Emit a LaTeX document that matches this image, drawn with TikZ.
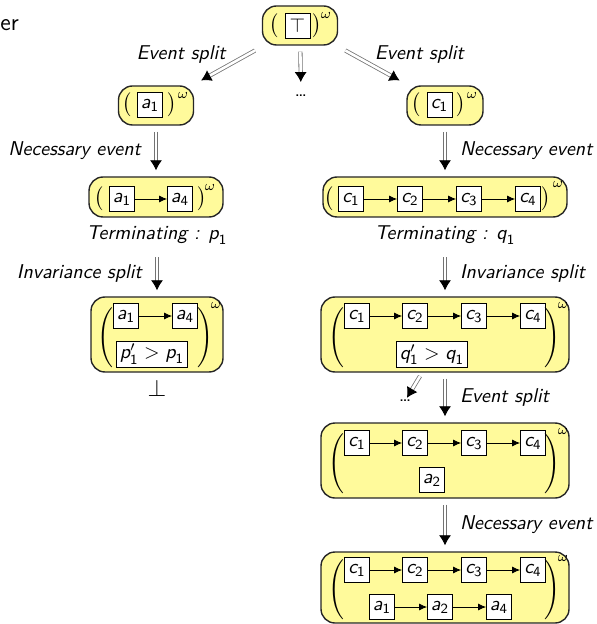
\documentclass[tikz,border=0pt]{standalone}
\usetikzlibrary{arrows.meta}
\renewcommand\familydefault{\sfdefault}
\definecolor{stateyellow}{RGB}{255,250,155}
% event with index, sans italic letter and sans index
\newcommand\ev[2]{\ensuremath{\textit{#1}_{\mathsf{#2}}}}

\tikzset{
  state/.style={draw=black!85, line width=0.7pt, fill=stateyellow, rounded corners=7pt, inner sep=0pt},
  evbox/.style={draw, fill=white, minimum width=12.5pt, minimum height=12.5pt, inner sep=1pt},
  guard/.style={draw, fill=white, minimum height=12.5pt, inner sep=1.5pt},
  paren/.style={inner sep=0pt},
  omega/.style={font=\scriptsize, inner sep=0pt},
  refine/.style={draw=black!55, double=white, double distance=1.3pt,
    -{Latex[length=5pt,width=6pt,black]}, shorten <=3pt, shorten >=3pt},
  order/.style={-{Latex[length=4pt,width=3.5pt]}},
  rule/.style={font=\itshape},
}

\begin{document}
\begin{tikzpicture}[x=0.5pt,y=-0.5pt]
  \useasboundingbox (0,0) rectangle (597,624);
  \node[font=\large, anchor=west, inner sep=0pt] at (0,25) {er};

  % initial state
  \node[state, minimum width=37.5pt, minimum height=19.5pt] (s0) at (300,25.5) {};
  \node[evbox] at (297.5,26) {$\top$};
  \node[paren] at (274,26) {$\big($};
  \node[paren] at (317,26) {$\big)$};
  \node[omega] at (326,15) {$\omega$};
  \node (more) at (301,96) {\dots};

  % left branch
  \node[state, minimum width=37.5pt, minimum height=19.5pt] (sa) at (156,105.5) {};
  \node[evbox] at (150,105) {\ev{a}{1}};
  \node[paren] at (127,105) {$\big($};
  \node[paren] at (172,105) {$\big)$};
  \node[omega] at (183,95) {$\omega$};

  \node[state, minimum width=67pt, minimum height=20pt] (sa2) at (156,197) {};
  \node[evbox] (a1) at (122,199) {\ev{a}{1}};
  \node[evbox] (a4) at (180,199) {\ev{a}{4}};
  \draw[order] (a1) -- (a4);
  \node[paren] at (99,199) {$\big($};
  \node[paren] at (202,199) {$\big)$};
  \node[omega] at (210,187) {$\omega$};
  \node[rule] (terma) at (157,235) {Terminating : \ev{p}{1}};

  \node[state, minimum width=66pt, minimum height=37.5pt] (sa3) at (157,334.5) {};
  \node[evbox] (b1) at (126,316) {\ev{a}{1}};
  \node[evbox] (b4) at (185,316) {\ev{a}{4}};
  \draw[order] (b1) -- (b4);
  \node[guard] at (152,354) {$\textit{p}'_{\mathsf{1}} > \textit{p}_{\mathsf{1}}$};
  \node[paren] at (105,338) {$\Bigg($};
  \node[paren] at (205,338) {$\Bigg)$};
  \node[omega] at (216,305) {$\omega$};
  \node[font=\large] (bot) at (157,388) {$\bot$};

  % right branch
  \node[state, minimum width=38pt, minimum height=19.5pt] (sc) at (445,105.5) {};
  \node[evbox] at (439.5,105) {\ev{c}{1}};
  \node[paren] at (416,105) {$\big($};
  \node[paren] at (461,105) {$\big)$};
  \node[omega] at (472,95) {$\omega$};

  \node[state, minimum width=122pt, minimum height=20pt] (sc2) at (445,197) {};
  \foreach \i/\x in {1/351,2/410,3/469,4/528}
    \node[evbox] (c\i) at (\x,199) {\ev{c}{\i}};
  \foreach \i/\j in {1/2,2/3,3/4}
    \draw[order] (c\i) -- (c\j);
  \node[paren] at (329,199) {$\big($};
  \node[paren] at (546,199) {$\big)$};
  \node[omega] at (558,184) {$\omega$};
  \node[rule] (termc) at (445,235) {Terminating : \ev{q}{1}};

  \node[state, minimum width=124pt, minimum height=37.5pt] (sc3) at (445,334.5) {};
  \foreach \i/\x in {1/357,2/415,3/474,4/533}
    \node[evbox] (d\i) at (\x,316) {\ev{c}{\i}};
  \foreach \i/\j in {1/2,2/3,3/4}
    \draw[order] (d\i) -- (d\j);
  \node[guard] at (432,354.5) {$\textit{q}'_{\mathsf{1}} > \textit{q}_{\mathsf{1}}$};
  \node[paren] at (336,338) {$\Bigg($};
  \node[paren] at (552,338) {$\Bigg)$};
  \node[omega] at (563,305) {$\omega$};
  \node[inner sep=1pt] (more2) at (405,401) {\dots};

  \node[state, minimum width=124pt, minimum height=37.5pt] (sc4) at (445,460.5) {};
  \foreach \i/\x in {1/357,2/415,3/474,4/533}
    \node[evbox] (e\i) at (\x,443) {\ev{c}{\i}};
  \foreach \i/\j in {1/2,2/3,3/4}
    \draw[order] (e\i) -- (e\j);
  \node[evbox] at (432,480) {\ev{a}{2}};
  \node[paren] at (336,464) {$\Bigg($};
  \node[paren] at (552,464) {$\Bigg)$};
  \node[omega] at (563,431) {$\omega$};

  \node[state, minimum width=124pt, minimum height=35.5pt] (sc5) at (445,587.5) {};
  \foreach \i/\x in {1/357,2/415,3/474,4/533}
    \node[evbox] (f\i) at (\x,570) {\ev{c}{\i}};
  \foreach \i/\j in {1/2,2/3,3/4}
    \draw[order] (f\i) -- (f\j);
  \node[evbox] (g1) at (382,607) {\ev{a}{1}};
  \node[evbox] (g2) at (440,607) {\ev{a}{2}};
  \node[evbox] (g4) at (499,607) {\ev{a}{4}};
  \draw[order] (g1) -- (g2);
  \draw[order] (g2) -- (g4);
  \node[paren] at (336,590) {$\Bigg($};
  \node[paren] at (552,590) {$\Bigg)$};
  \node[omega] at (563,558) {$\omega$};

  % refinement steps
  \draw[refine, shorten <=5pt, shorten >=5pt] (s0) -- node[rule, above left, inner sep=1pt] {Event split} (sa);
  \draw[refine, shorten <=5pt, shorten >=5pt] (s0) -- node[rule, above right, inner sep=1pt] {Event split} (sc);
  \draw[refine] (s0) -- (more);
  \draw[refine] (sa) -- node[rule, left=4pt] {Necessary event} (sa2);
  \draw[refine] (terma) -- node[rule, left=4pt] {Invariance split} (sa3);
  \draw[refine] (sc) -- node[rule, right=4pt] {Necessary event} (sc2);
  \draw[refine] (termc) -- node[rule, right=4pt] {Invariance split} (sc3);
  \draw[refine, shorten <=2pt, shorten >=0pt] (sc3) -- (more2);
  \draw[refine] (sc3) -- node[rule, right=4pt] {Event split} (sc4);
  \draw[refine] (sc4) -- node[rule, right=4pt] {Necessary event} (sc5);
\end{tikzpicture}
\end{document}
